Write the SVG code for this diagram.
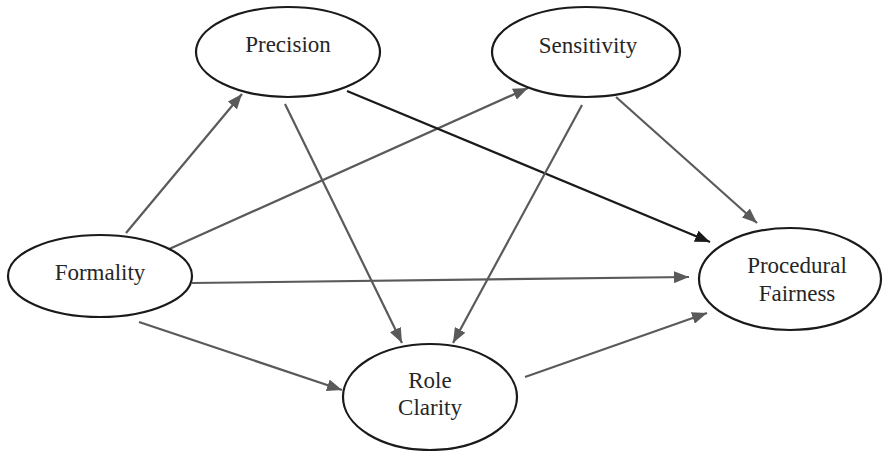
<svg xmlns="http://www.w3.org/2000/svg" width="888" height="451" viewBox="0 0 888 451">
<style>
.node ellipse{fill:#fff;stroke:#1a1a1a;stroke-width:2.2}
.node text{font-family:"Liberation Serif","Times New Roman",serif;font-size:23px;fill:#262626;text-anchor:middle}
.c{stroke:#5a5a5a;stroke-width:2.2;fill:none;marker-end:url(#ag)}
.k{stroke:#1a1a1a;stroke-width:2.2;fill:none;marker-end:url(#ak)}
</style>
<defs>
<marker id="ag" markerUnits="userSpaceOnUse" markerWidth="16" markerHeight="12" refX="15" refY="6" orient="auto"><path d="M0,0 L15,6 L0,12 z" fill="#5a5a5a"/></marker>
<marker id="ak" markerUnits="userSpaceOnUse" markerWidth="16" markerHeight="12" refX="15" refY="6" orient="auto"><path d="M0,0 L15,6 L0,12 z" fill="#1a1a1a"/></marker>
</defs>
<rect width="888" height="451" fill="#fff"/>
<g id="connectors">
<line class="c" x1="126" y1="233" x2="242" y2="94"/>
<line class="c" x1="167" y1="250" x2="528" y2="88"/>
<line class="c" x1="192" y1="283" x2="689" y2="277"/>
<line class="c" x1="139" y1="322" x2="342" y2="390"/>
<line class="c" x1="285" y1="104" x2="402" y2="343"/>
<line class="k" x1="347" y1="91" x2="710" y2="242"/>
<line class="c" x1="582" y1="105" x2="453" y2="343"/>
<line class="c" x1="616" y1="97" x2="757" y2="223"/>
<line class="c" x1="525" y1="377" x2="707" y2="313"/>
</g>
<g id="precision" class="node"><ellipse cx="288" cy="52" rx="92" ry="45"/><text x="288" y="52">Precision</text></g>
<g id="sensitivity" class="node"><ellipse cx="586" cy="52" rx="94" ry="45"/><text x="588" y="53">Sensitivity</text></g>
<g id="formality" class="node"><ellipse cx="100" cy="276" rx="92" ry="41"/><text x="100" y="280">Formality</text></g>
<g id="procedural-fairness" class="node"><ellipse cx="790" cy="279" rx="91" ry="51"/><text x="797" y="273">Procedural</text><text x="797" y="301">Fairness</text></g>
<g id="role-clarity" class="node"><ellipse cx="430" cy="397" rx="87" ry="53"/><text x="430" y="388">Role</text><text x="430" y="415">Clarity</text></g>
</svg>
